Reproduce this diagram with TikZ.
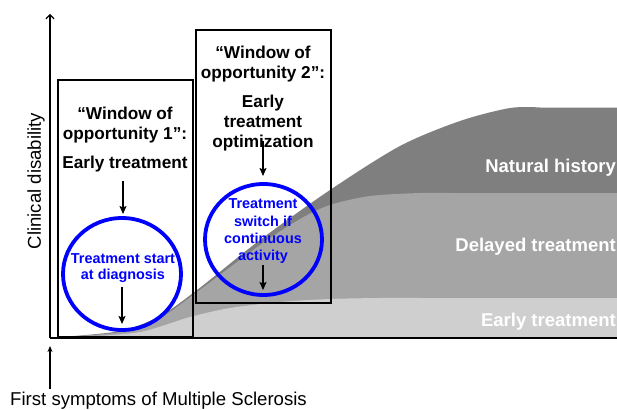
\documentclass[tikz,border=0pt]{standalone}
\usepackage{fontspec}
\setmainfont{Liberation Sans}
\usetikzlibrary{arrows.meta,shapes.geometric}
\definecolor{natgray}{HTML}{7F7F7F}
\definecolor{delgray}{HTML}{A5A5A5}
\definecolor{earlygray}{HTML}{CFCFCF}
\definecolor{ringblue}{HTML}{0000FF}
\begin{document}
\begin{tikzpicture}[x=1pt,y=-1pt,
  boxtxt/.style={font=\fontsize{17.2}{20}\selectfont\bfseries, anchor=base, inner sep=0pt},
  bluetxt/.style={font=\fontsize{14.4}{17}\selectfont\bfseries, text=ringblue, anchor=base, inner sep=0pt},
  labeltxt/.style={font=\fontsize{18.5}{22}\selectfont\bfseries, text=white, anchor=base east, inner sep=0pt},
  axistxt/.style={font=\fontsize{18.6}{20}\selectfont, inner sep=0pt},
  window/.style={draw=black, line width=2pt},
  ring/.style={draw=ringblue, line width=3.8pt, ellipse, inner sep=0pt},
  pointer/.style={draw=black, line width=1.3pt, -{Stealth[length=8pt,width=7pt,inset=1.5pt]}},
]
\useasboundingbox (0,0) rectangle (617,409);
% shaded regions
\fill[natgray] plot[smooth, tension=0.5] coordinates {(60,337) (120,331) (160,316) (197,290) (260,240) (330,190) (400,146) (460,121) (510,108) (540,107.5)} -- (620,107.5) -- (620,337) -- cycle;
\fill[delgray] plot[smooth, tension=0.5] coordinates {(62,337) (120,332) (160,318) (197,292) (260,245) (300,219) (330,205) (370,196) (420,193) (450,193)} -- (620,193) -- (620,337) -- cycle;
\fill[earlygray] plot[smooth, tension=0.5] coordinates {(80,337) (140,332) (190,317) (230,308) (280,302) (330,299) (380,298) (420,298)} -- (620,298) -- (620,337) -- cycle;
% axes
\coordinate (orig) at (50,338);
\coordinate (ytop) at (50,14);
\coordinate (xend) at (620,338);
\draw[line width=1.2pt] (orig) -- (xend);
\draw[line width=1.2pt, -{Straight Barb[length=4pt,width=8pt]}] (orig) -- (ytop);
% windows
\node[window, minimum width=135pt, minimum height=257pt, inner sep=0pt] (w1) at (125.5,208.5) {};
\node[window, minimum width=135pt, minimum height=273pt, inner sep=0pt] (w2) at (263.5,166.5) {};
% rings
\node[ring, minimum width=118pt, minimum height=112pt] (c1) at (122,274) {};
\node[ring, minimum width=117pt, minimum height=111pt] (c2) at (263.5,239.5) {};
% window 1 text
\node[boxtxt] (w1a) at (125,119) {“Window of};
\node[boxtxt] (w1b) at (125,139) {opportunity 1”:};
\node[boxtxt] (w1c) at (125,168) {Early treatment};
% window 2 text
\node[boxtxt] (w2a) at (263,59) {“Window of};
\node[boxtxt] (w2b) at (263,78) {opportunity 2”:};
\node[boxtxt] (w2c) at (263,107) {Early};
\node[boxtxt] (w2d) at (263,127) {treatment};
\node[boxtxt] (w2e) at (263,147) {optimization};
% ring texts
\node[bluetxt] (r1a) at (123,263) {Treatment start};
\node[bluetxt] (r1b) at (123,279) {at diagnosis};
\node[bluetxt] (r2a) at (263,208) {Treatment};
\node[bluetxt] (r2b) at (263,226) {switch if};
\node[bluetxt] (r2c) at (263,243) {continuous};
\node[bluetxt] (r2d) at (263,260) {activity};
% curve labels
\node[labeltxt] (lnat) at (616,172) {Natural history};
\node[labeltxt] (ldel) at (616,251) {Delayed treatment};
\node[labeltxt] (learly) at (616,326) {Early treatment};
% axis texts
\node[axistxt, rotate=90] (ylab) at (36,181) {Clinical disability};
\node[axistxt, anchor=base west] (xlab) at (10,405) {First symptoms of Multiple Sclerosis};
% arrows
\coordinate (a1s) at (123,181);
\coordinate (a1e) at (123,214);
\coordinate (a2s) at (122,287);
\coordinate (a2e) at (122,324);
\coordinate (a3s) at (263,141);
\coordinate (a3e) at (263,176);
\coordinate (a4s) at (263,265);
\coordinate (a4e) at (263,290);
\coordinate (b1s) at (50,389);
\coordinate (b1e) at (50,346);
\draw[pointer] (a1s) -- (a1e);
\draw[pointer] (a2s) -- (a2e);
\draw[pointer] (a3s) -- (a3e);
\draw[pointer] (a4s) -- (a4e);
\draw[line width=1.3pt, -{Stealth[length=6pt,width=5pt]}] (b1s) -- (b1e);
\end{tikzpicture}
\end{document}
